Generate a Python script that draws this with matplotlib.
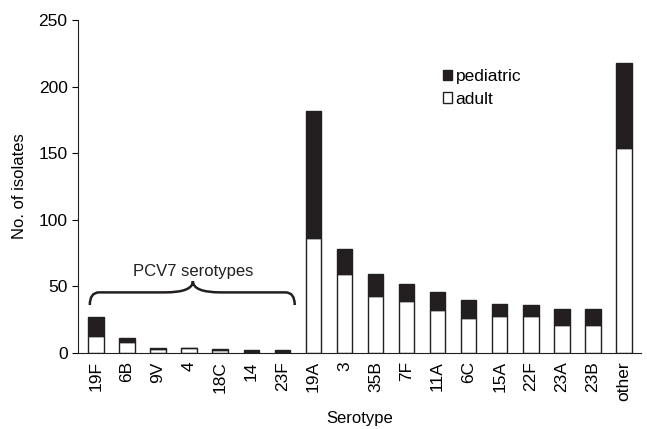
import matplotlib
matplotlib.use("Agg")
import matplotlib.pyplot as plt
from matplotlib.path import Path
from matplotlib.patches import PathPatch

plt.rcParams['font.family'] = ['Liberation Sans', 'DejaVu Sans']

serotypes = ["19F", "6B", "9V", "4", "18C", "14", "23F", "19A", "3", "35B",
             "7F", "11A", "6C", "15A", "22F", "23A", "23B", "other"]
adult = [13, 8, 3, 4, 2, 1, 1, 86, 59, 43, 39, 32, 26, 28, 28, 21, 21, 154]
pediatric = [14, 3, 1, 0, 1, 1, 1, 96, 19, 16, 13, 14, 14, 9, 8, 12, 12, 64]

dark = "#231f20"

fig = plt.figure(figsize=(6.47, 4.29), dpi=100)
ax = fig.add_axes([78 / 647, 1 - 353 / 429, (641 - 78) / 647, (353 - 20) / 429])

x = range(len(serotypes))
ax.bar(x, adult, width=0.5, color="white", edgecolor=dark, linewidth=1, label="adult")
ax.bar(x, pediatric, width=0.5, bottom=adult, color=dark, edgecolor=dark,
       linewidth=1, label="pediatric")

ax.set_xlim(-0.58, 17.55)
ax.set_ylim(0, 250)
ax.set_yticks([0, 50, 100, 150, 200, 250])
ax.set_xticks(list(x))
ax.set_xticklabels(serotypes, rotation=90, fontsize=12.5)
ax.tick_params(axis="x", length=0, pad=6)
ax.tick_params(axis="y", labelsize=12.5, length=4, direction="out")
for s in ["top", "right"]:
    ax.spines[s].set_visible(False)
ax.spines["left"].set_color(dark)
ax.spines["bottom"].set_color(dark)

ax.set_ylabel("No. of isolates", fontsize=12, labelpad=8)
ax.set_xlabel("Serotype", fontsize=12, labelpad=7)

# curly brace over PCV7 serotypes
xl, xr, xc = -0.2, 6.4, 3.12
yb, yh, yp = 36, 45.5, 54
verts = [(xl, yb), (xl, yh), (xl + 0.3, yh), (xl + 0.9, yh),
         (xc - 0.9, yh), (xc, yh), (xc, yp),
         (xc, yh), (xc + 0.9, yh), (xr - 0.9, yh),
         (xr - 0.3, yh), (xr, yh), (xr, yb)]
codes = [Path.MOVETO, Path.CURVE3, Path.CURVE3, Path.LINETO,
         Path.LINETO, Path.CURVE3, Path.CURVE3,
         Path.CURVE3, Path.CURVE3, Path.LINETO,
         Path.LINETO, Path.CURVE3, Path.CURVE3]
ax.add_patch(PathPatch(Path(verts, codes), facecolor="none", edgecolor=dark, lw=1.8))
ax.text(xc, 61, "PCV7 serotypes", ha="center", va="center", fontsize=12, color=dark)

handles, labels = ax.get_legend_handles_labels()
ax.legend(handles[::-1], labels[::-1], loc="upper left", bbox_to_anchor=(0.62, 0.9),
          frameon=False, handlelength=0.55, handleheight=0.55, handletextpad=0.2,
          labelspacing=0.45, fontsize=12.5)

fig.savefig("out.png", dpi=100)
